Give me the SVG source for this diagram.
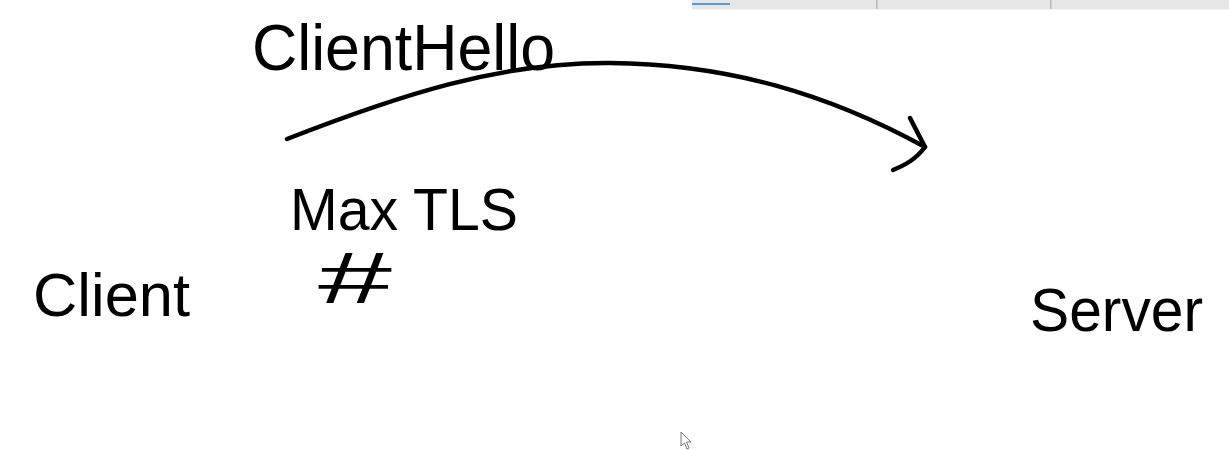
<svg xmlns="http://www.w3.org/2000/svg" width="1229" height="450" viewBox="0 0 1229 450">
  <style>
    .hand { font-family: "Liberation Sans", "DejaVu Sans", sans-serif; fill: #000; }
    .ink { fill: none; stroke: #000; stroke-width: 4.5; stroke-linecap: round; stroke-linejoin: round; }
  </style>
  <rect x="0" y="0" width="1229" height="450" fill="#ffffff"/>
  <!-- toolbar strip -->
  <g id="toolbar">
    <rect x="692" y="0" width="537" height="9" fill="#e6e6e6"/>
    <line x1="692" y1="9.5" x2="1229" y2="9.5" stroke="#f2f2f2" stroke-width="1"/>
    <rect x="876" y="0" width="1.5" height="9" fill="#b8b8b8"/>
    <rect x="1050" y="0" width="1.5" height="9" fill="#b8b8b8"/>
    <rect x="692" y="3" width="38" height="2" fill="#5b9bd5"/>
  </g>
  <g id="client">
    <text class="hand" x="33" y="316" font-size="62" textLength="157" lengthAdjust="spacingAndGlyphs">Client</text>
  </g>
  <g id="server">
    <text class="hand" x="1030" y="331" font-size="62" textLength="173" lengthAdjust="spacingAndGlyphs">Server</text>
  </g>
  <g id="clienthello-label">
    <text class="hand" x="252" y="70" font-size="64" textLength="303" lengthAdjust="spacingAndGlyphs">ClientHello</text>
  </g>
  <g id="max-tls-note">
    <text class="hand" x="290" y="230" font-size="60" textLength="228" lengthAdjust="spacingAndGlyphs">Max TLS</text>
    <text class="hand" x="318" y="303" font-size="72" textLength="74" lengthAdjust="spacingAndGlyphs">#</text>
  </g>
  <g id="connectors">
    <path class="ink" d="M287,139 C400,95 500,62 610,63 C730,64 830,95 925,147"/>
    <path class="ink" d="M910,118 L925,147 C915,160 905,165 893,170"/>
  </g>
  <g id="cursor">
    <path d="M681,432 L681,446 L684.5,443 L687,449 L689,448 L686.5,442 L691,442 Z" fill="#ffffff" stroke="#777" stroke-width="1"/>
  </g>
</svg>
